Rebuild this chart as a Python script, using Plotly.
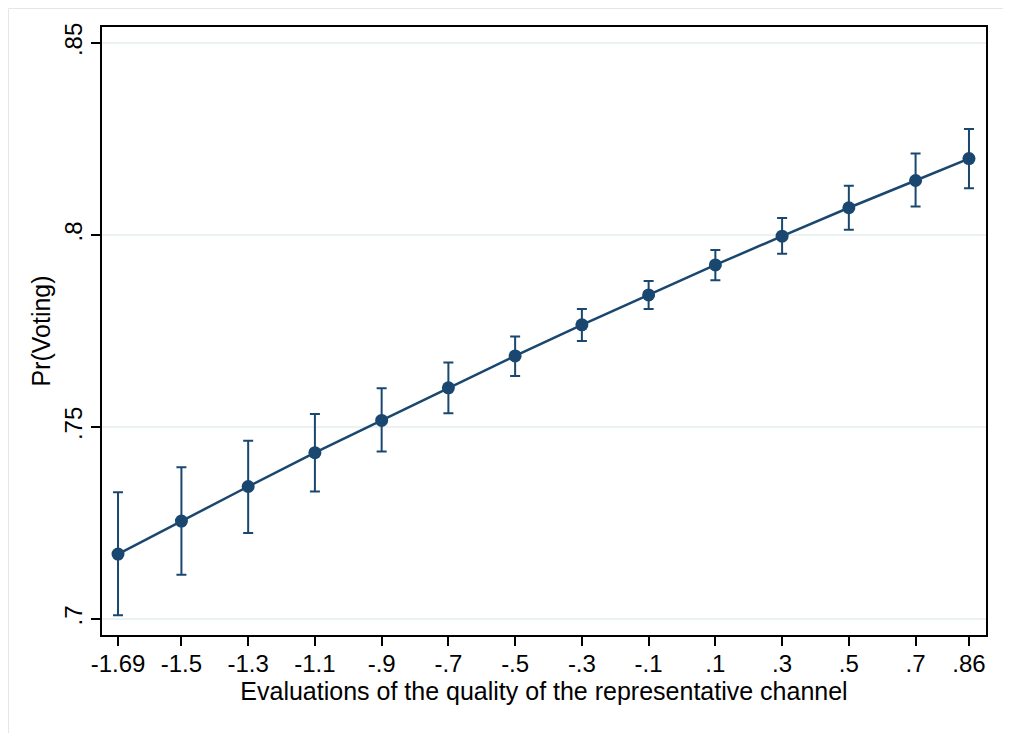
import plotly.graph_objects as go

x_vals = [-1.69, -1.5, -1.3, -1.1, -0.9, -0.7, -0.5, -0.3, -0.1, 0.1, 0.3, 0.5, 0.7, 0.86]
x_labels = ["-1.69", "-1.5", "-1.3", "-1.1", "-.9", "-.7", "-.5", "-.3", "-.1", ".1", ".3", ".5", ".7", ".86"]
pr_voting = [0.7169, 0.7255, 0.7345, 0.7433, 0.7517, 0.7602, 0.7685, 0.7766, 0.7844, 0.7922, 0.7997, 0.8071, 0.8142, 0.8199]
ci_upper = [0.7330, 0.7395, 0.7464, 0.7534, 0.7601, 0.7668, 0.7736, 0.7807, 0.7880, 0.7961, 0.8044, 0.8128, 0.8212, 0.8276]
ci_lower = [0.7010, 0.7115, 0.7224, 0.7332, 0.7436, 0.7536, 0.7633, 0.7724, 0.7807, 0.7882, 0.7951, 0.8014, 0.8074, 0.8122]
y_ticks = [0.7, 0.75, 0.8, 0.85]
y_labels = [".7", ".75", ".8", ".85"]

navy = "#1a476f"
err_plus = [u - v for u, v in zip(ci_upper, pr_voting)]
err_minus = [v - l for v, l in zip(pr_voting, ci_lower)]

fig = go.Figure()
fig.add_trace(go.Scatter(
    x=x_vals, y=pr_voting, mode="lines+markers",
    line=dict(color=navy, width=2.5),
    marker=dict(color=navy, size=13),
    error_y=dict(type="data", symmetric=False, array=err_plus, arrayminus=err_minus,
                 color=navy, thickness=2, width=5),
    showlegend=False,
))

# page has an 8px body margin; figure is sized to fit the window
W, H = 1003, 725
ml, mr, mt, mb = 94, 25, 19, 98
pw, ph = W - ml - mr, H - mt - mb

# outer light border (Stata graph region)
fig.add_shape(type="rect", xref="paper", yref="paper",
              x0=(0.5 - ml) / pw, x1=(W - 2 - ml) / pw,
              y0=-(mb + 40) / ph, y1=(ph + mt - 0.5) / ph,
              line=dict(color="#e6e6e6", width=1), fillcolor="rgba(0,0,0,0)", layer="below")

font_family = "Liberation Sans, Arial, Helvetica, sans-serif"
fig.update_layout(
    width=W, height=H,
    margin=dict(l=ml, r=mr, t=mt, b=mb),
    paper_bgcolor="white", plot_bgcolor="white",
    font=dict(family=font_family, color="black", size=24),
    xaxis=dict(
        range=[-1.738, 0.911],
        tickmode="array", tickvals=x_vals, ticktext=x_labels,
        ticks="outside", ticklen=9, tickwidth=1.5, tickcolor="black",
        ticklabelstandoff=-3,
        showline=True, linecolor="black", linewidth=1.5, mirror=True,
        showgrid=False, zeroline=False,
        tickfont=dict(size=24),
        title=dict(text="Evaluations of the quality of the representative channel",
                   font=dict(size=25), standoff=2),
    ),
    yaxis=dict(
        range=[0.69583, 0.85417],
        tickmode="array", tickvals=y_ticks, ticktext=y_labels,
        tickangle=-90,
        ticks="outside", ticklen=9, tickwidth=1.5, tickcolor="black",
        showline=True, linecolor="black", linewidth=1.5, mirror=True,
        showgrid=True, gridcolor="#eaf2f3", gridwidth=1.5, zeroline=False,
        tickfont=dict(size=24),
        title=dict(text="Pr(Voting)", font=dict(size=25), standoff=2),
    ),
)

fig.write_html("out.html")
